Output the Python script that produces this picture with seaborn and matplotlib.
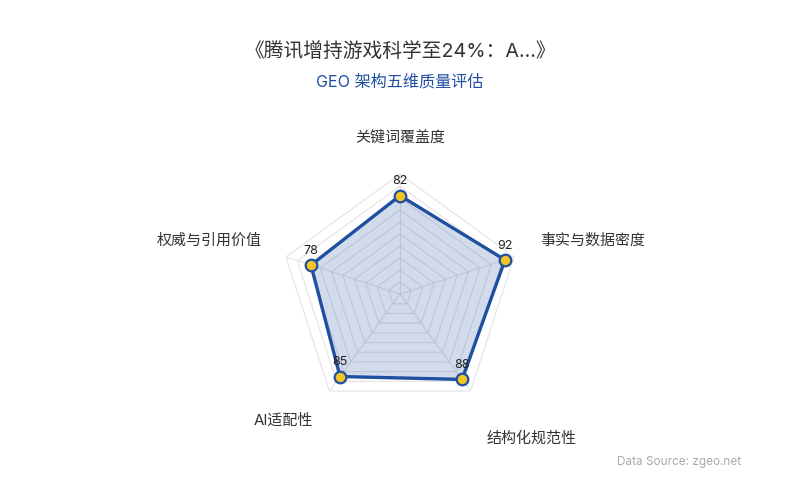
import numpy as np
import pandas as pd
import seaborn as sns
import matplotlib
matplotlib.use("Agg")
import matplotlib.pyplot as plt

# data
dimensions = ['关键词覆盖度', '事实与数据密度', '结构化规范性', 'AI适配性', '权威与引用价值']
scores = [82, 92, 88, 85, 78]
max_score = 100
grid_levels = [10, 20, 30, 40, 50, 60, 70, 80, 90, 100]

title = '《腾讯增持游戏科学至24%：A...》'
subtitle = 'GEO 架构五维质量评估'
source = 'Data Source: zgeo.net'

sns.set_theme(style='white')
plt.rcParams['font.family'] = ['Inter', 'Noto Sans CJK SC', 'DejaVu Sans']

line_blue = '#1f4fa0'
fill_blue = '#1f4fa0'
dot_yellow = '#f2c523'
grid_gray = '#e3e3e3'

# angles: first axis on top, going clockwise
n = len(dimensions)
angles = [np.pi / 2 - 2 * np.pi * i / n for i in range(n)]
df = pd.DataFrame({'dim': dimensions, 'score': scores, 'theta': angles})

fig = plt.figure(figsize=(8, 5), dpi=100)
ax = fig.add_axes([0.35, 0.172, 0.3, 0.48], projection='polar')
ax.set_ylim(0, max_score)
ax.set_xticks([])
ax.set_yticks([])
ax.grid(False)
ax.spines['polar'].set_visible(False)
ax.set_facecolor('none')

closed = angles + [angles[0]]
# polygon grid
for lv in grid_levels:
    ax.plot(closed, [lv] * (n + 1), color=grid_gray, lw=0.8, zorder=1)
for a in angles:
    ax.plot([a, a], [0, max_score], color=grid_gray, lw=0.8, zorder=1)

vals = scores + [scores[0]]
ax.fill(closed, vals, color=fill_blue, alpha=0.2, zorder=2, lw=0)
ax.plot(closed, vals, color=line_blue, lw=2.4, zorder=3)
sns.scatterplot(data=df, x='theta', y='score', ax=ax, s=70, color=dot_yellow,
                edgecolor=line_blue, linewidth=1.6, zorder=4, legend=False)
ax.set_xlabel('')
ax.set_ylabel('')

for a, v in zip(angles, scores):
    ax.annotate(str(v), (a, v), xytext=(0, 6), textcoords='offset points',
                ha='center', va='bottom', fontsize=9, color='#222222', zorder=5)

# axis names (radius, angle in degrees, ha)
name_pos = [(130, 90, 'center'), (125, 21, 'left'), (140, -59, 'left'),
            (128, 235.4, 'right'), (124, 158.8, 'right')]
for name, (r, deg, ha) in zip(dimensions, name_pos):
    ax.text(np.deg2rad(deg), r, name, ha=ha, va='center', fontsize=10.8,
            color='#333333', clip_on=False)

fig.text(0.5, 1 - 52 / 500, title, ha='center', va='center', fontsize=14.2, color='#333333')
fig.text(0.5, 1 - 82 / 500, subtitle, ha='center', va='center', fontsize=11.6, color='#1f4fa0')
fig.text(741 / 800, 1 - 462 / 500, source, ha='right', va='center', fontsize=8.5, color='#aaaaaa')

fig.savefig('out.png', dpi=100)
